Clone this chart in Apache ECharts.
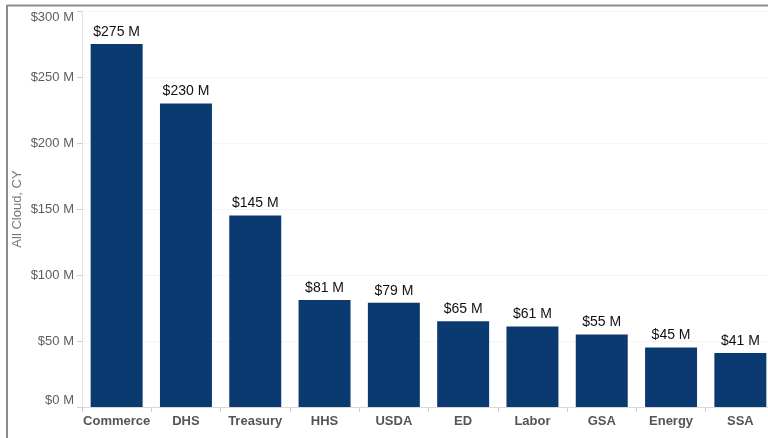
<!DOCTYPE html>
<html><head><meta charset="utf-8">
<script src="https://cdn.jsdelivr.net/npm/echarts@6/dist/echarts.min.js"></script>
<style>html,body{margin:0;padding:0;background:#fff}#c{width:768px;height:438px}</style>
</head><body><div id="c"></div>
<script>
const categories = ["Commerce","DHS","Treasury","HHS","USDA","ED","Labor","GSA","Energy","SSA"];
const values = [275,230,145,81,79,65,61,55,45,41];
const yTicks = [0,50,100,150,200,250,300];
const yTitle = "All Cloud, CY";

const chart = echarts.init(document.getElementById('c'));
chart.setOption({
  animation:false,
  backgroundColor:'#fff',
  grid:{left:82,top:11,width:693,height:396,outerBoundsMode:'none',containLabel:false},
  graphic:[
    {type:'line',shape:{x1:7,y1:5.5,x2:768,y2:5.5},style:{stroke:'#8c8c8c',lineWidth:2}},
    {type:'line',shape:{x1:7,y1:5,x2:7,y2:438},style:{stroke:'#8c8c8c',lineWidth:2}}
  ],
  xAxis:{type:'category',data:categories,
    axisLine:{show:true,lineStyle:{color:'#d9d9d9'}},
    axisTick:{show:true,alignWithLabel:false,length:5,lineStyle:{color:'#cfcfcf'}},
    axisLabel:{interval:0,color:'#555',fontWeight:'bold',fontSize:13,fontFamily:'Liberation Sans, Arial',margin:8}},
  yAxis:{type:'value',min:0,max:300,interval:50,
    name:yTitle,nameLocation:'middle',nameGap:58,nameRotate:90,nameMoveOverlap:false,
    nameTextStyle:{color:'#777',fontSize:13,fontFamily:'Liberation Sans, Arial'},
    axisLine:{show:true,lineStyle:{color:'#e3e3e3'}},
    axisTick:{show:true,length:5,lineStyle:{color:'#cfcfcf'}},
    splitLine:{show:true,lineStyle:{color:'#f5f5f5'}},
    axisLabel:{color:'#5e5e5e',fontSize:13,fontFamily:'Liberation Sans, Arial',margin:8,
      verticalAlignMinLabel:'bottom',verticalAlignMaxLabel:'top',
      formatter:v=>'$'+v+' M'}},
  series:[{type:'bar',data:values,barWidth:'75%',
    itemStyle:{color:'#0a3a70'},
    label:{show:true,position:'top',distance:5,color:'#111',fontSize:14,fontFamily:'Liberation Sans, Arial',
      formatter:p=>'$'+p.value+' M'}}]
});
</script></body></html>
